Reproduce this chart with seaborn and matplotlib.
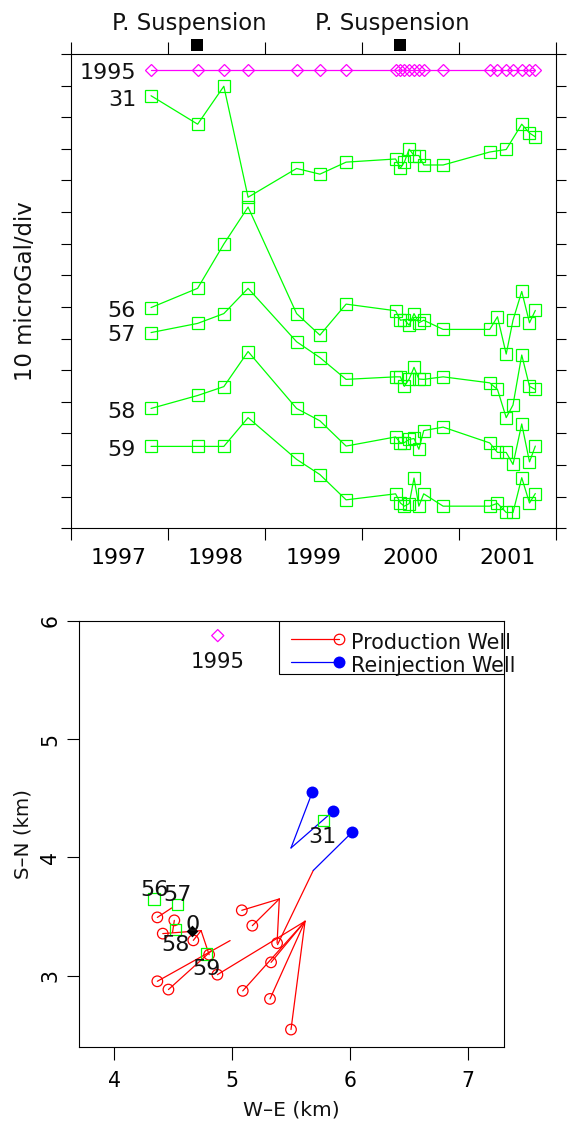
import matplotlib
matplotlib.use('Agg')
import matplotlib.pyplot as plt
from matplotlib.patches import Rectangle
import pandas as pd
import seaborn as sns

sns.set_style('ticks', {'axes.edgecolor': 'black', 'xtick.color': 'black', 'ytick.color': 'black',
                        'text.color': '#111111', 'axes.labelcolor': '#111111'})
plt.rcParams['font.family'] = ['DejaVu Sans']

LIME = '#00ff00'
MAGENTA = '#ff00ff'
RED = '#ff0000'
BLUE = '#0000ff'

# Gravity time series (decimal year, microGal)
times = [1997.83, 1998.31, 1998.58, 1998.83, 1999.33, 1999.57, 1999.84, 2000.35, 2000.40, 2000.44, 2000.49,
         2000.54, 2000.59, 2000.64, 2000.84, 2001.32, 2001.40, 2001.49, 2001.56, 2001.65, 2001.73, 2001.79]
g_1995 = [144.8] * 22
g_31 = [136.8, 127.8, 139.8, 104.7, 113.8, 112.0, 115.8, 116.8, 113.9, 115.8, 119.9,
        117.9, 117.9, 114.9, 114.9, 119.0, None, 119.8, None, 127.8, 125.0, 123.8]
g_56 = [69.8, 75.9, 89.9, 101.6, 67.9, 61.1, 70.9, 68.8, 65.8, 66.0, 64.2,
        67.9, 65.0, 65.8, 62.9, 62.9, 66.9, 55.1, 65.8, 74.9, 65.0, 68.9]
g_57 = [61.9, 64.8, 67.9, 75.9, 59.0, 54.0, 47.1, 47.9, 47.9, 44.9, 47.2,
        50.9, 47.2, 47.1, 47.9, 46.0, 43.9, 35.0, 39.0, 54.8, 44.9, 43.9]
g_58 = [37.9, 42.0, 44.8, 55.9, 37.9, 34.0, 26.0, 28.9, 27.0, 27.1, 28.1,
        28.4, 25.0, 30.9, 32.0, 27.0, 24.0, 24.0, 20.2, 33.0, 21.0, 26.0]
g_59 = [25.9, 25.9, 25.9, 35.0, 21.8, 17.0, 9.0, 10.9, 8.0, 7.0, 7.8,
        15.9, 7.0, 10.9, 7.0, 7.0, 7.9, 5.0, 5.0, 16.0, 8.0, 11.0]
station_labels = ['1995', '31', '56', '57', '58', '59']
label_y = [144.0, 135.5, 68.7, 61.1, 36.7, 24.9]
suspension_t = [1998.30, 2000.40]
suspension_text_t = [1998.22, 2000.32]
year_ticks = [1997, 1998, 1999, 2000, 2001, 2002]
year_labels = ['1997', '1998', '1999', '2000', '2001']

# Map: well bottom (x, y) then wellhead (x, y), in km
prod_bottom_x = [4.364, 4.508, 4.410, 4.669, 4.803, 4.364, 4.458, 4.873, 5.080, 5.169, 5.379, 5.328, 5.088, 5.319, 5.497]
prod_bottom_y = [3.492, 3.467, 3.355, 3.298, 3.177, 2.952, 2.882, 3.008, 3.552, 3.422, 3.274, 3.112, 2.871, 2.803, 2.544]
prod_head_x = [4.486, 4.493, 4.735, 4.735, 4.735, 4.981, 4.819, 5.616, 5.398, 5.398, 5.398, 5.616, 5.616, 5.616, 5.616]
prod_head_y = [3.572, 3.366, 3.380, 3.380, 3.380, 3.296, 3.207, 3.459, 3.648, 3.648, 3.648, 3.459, 3.459, 3.459, 3.459]
reinj_x = [5.678, 5.856, 6.017]
reinj_y = [4.551, 4.391, 4.214]
reinj_head_x = [5.497, 5.497, 5.686]
reinj_head_y = [4.079, 4.079, 3.889]
branch_x = [5.686, 5.383]
branch_y = [3.889, 3.262]
station_x = [4.336, 4.534, 4.520, 4.783, 5.771]
station_y = [3.648, 3.600, 3.389, 3.183, 4.312]
station_names = ['56', '57', '58', '59', '31']
station_text_x = [4.336, 4.534, 4.520, 4.783, 5.765]
station_text_y = [3.725, 3.678, 3.260, 3.055, 4.170]


def draw_series(ax, values, color, marker, size):
    df = pd.DataFrame({'t': times, 'g': values}).dropna()
    sns.lineplot(data=df, x='t', y='g', estimator=None, sort=False, ax=ax, color=color, linewidth=0.9,
                 marker=marker, markersize=size, markerfacecolor='none', markeredgecolor=color,
                 markeredgewidth=0.9)


def draw_well(ax, x0, y0, x1, y1, color):
    sns.lineplot(x=[x0, x1], y=[y0, y1], estimator=None, sort=False, ax=ax, color=color, linewidth=0.9)


fig = plt.figure(figsize=(5.68, 11.21), dpi=100)

# Top panel: time series
ax1 = fig.add_axes([70.5 / 568, 1 - 528.3 / 1121, 485.2 / 568, 474.3 / 1121])
draw_series(ax1, g_1995, MAGENTA, 'D', 6.2)
for values in [g_31, g_56, g_57, g_58, g_59]:
    draw_series(ax1, values, LIME, 's', 8.6)
sns.scatterplot(x=suspension_t, y=[152.9, 152.9], marker='s', s=80, color='black', linewidth=0,
                ax=ax1, clip_on=False, zorder=5)
for t in suspension_text_t:
    ax1.text(t, 159.5, 'P. Suspension', ha='center', va='center', fontsize=16.4, clip_on=False)
for name, y in zip(station_labels, label_y):
    ax1.text(1997.675, y, name, ha='right', va='center', fontsize=16)

ax1.set_xlim(1997, 2002)
ax1.set_ylim(0, 150)
ax1.set_xticks(year_ticks)
ax1.set_xticklabels([])
ax1.set_xticks([y + 0.5 for y in year_ticks[:-1]], minor=True)
ax1.set_xticklabels(year_labels, minor=True, fontsize=15.8)
ax1.set_yticks(range(0, 151, 10))
ax1.set_yticklabels([])
ax1.tick_params(axis='x', which='major', direction='out', length=8.6, width=0.8, top=True, bottom=True)
ax1.tick_params(axis='x', which='minor', length=0, pad=14.4)
ax1.tick_params(axis='y', direction='out', length=7.5, width=0.8, left=True, right=True)
ax1.set_xlabel('')
ax1.set_ylabel('10 microGal/div', fontsize=16.4, va='center')
ax1.yaxis.set_label_coords(-0.0925, 0.5)
for spine in ax1.spines.values():
    spine.set_visible(True)
    spine.set_linewidth(0.8)

# Bottom panel: well map
ax2 = fig.add_axes([79 / 568, 1 - 1047.3 / 1121, 424.7 / 568, 426.6 / 1121])
for i in range(len(prod_bottom_x)):
    draw_well(ax2, prod_bottom_x[i], prod_bottom_y[i], prod_head_x[i], prod_head_y[i], RED)
draw_well(ax2, branch_x[0], branch_y[0], branch_x[1], branch_y[1], RED)
for i in range(len(reinj_x)):
    draw_well(ax2, reinj_x[i], reinj_y[i], reinj_head_x[i], reinj_head_y[i], BLUE)
sns.scatterplot(x=prod_bottom_x, y=prod_bottom_y, marker='o', s=58, facecolor='none', edgecolor=RED,
                linewidth=0.9, ax=ax2, zorder=3)
sns.scatterplot(x=reinj_x, y=reinj_y, marker='o', s=74, color=BLUE, linewidth=0, ax=ax2, zorder=3)
sns.scatterplot(x=station_x, y=station_y, marker='s', s=64, facecolor='none', edgecolor=LIME,
                linewidth=0.9, ax=ax2, zorder=4)
sns.scatterplot(x=[4.876], y=[5.874], marker='D', s=38, facecolor='none', edgecolor=MAGENTA,
                linewidth=0.9, ax=ax2, zorder=4)
sns.scatterplot(x=[4.661], y=[3.374], marker='D', s=36, color='black', linewidth=0, ax=ax2, zorder=5)

for name, x, y in zip(station_names, station_text_x, station_text_y):
    ax2.text(x, y, name, ha='center', va='center', fontsize=16, zorder=6)
ax2.text(4.661, 3.43, '0', ha='center', va='center', fontsize=16, zorder=6)
ax2.text(4.876, 5.65, '1995', ha='center', va='center', fontsize=15.2, zorder=6)

# Legend box, the labels run past the right edge as in the source figure
ax2.add_patch(Rectangle((5.398, 5.547), 1.902, 0.453, facecolor='white', edgecolor='black', linewidth=0.8, zorder=6))
ax2.plot([5.497, 5.904], [5.845, 5.845], color=RED, linewidth=0.9, zorder=7)
ax2.plot([5.904], [5.845], 'o', ms=7.6, mfc='none', mec=RED, mew=0.9, zorder=7)
ax2.plot([5.497, 5.904], [5.648, 5.648], color=BLUE, linewidth=0.9, zorder=7)
ax2.plot([5.904], [5.648], 'o', ms=8.6, mfc=BLUE, mec=BLUE, mew=0, zorder=7)
ax2.text(6.006, 5.812, 'Production Well', ha='left', va='center', fontsize=14.9, clip_on=False, zorder=8)
ax2.text(6.006, 5.615, 'Reinjection Well', ha='left', va='center', fontsize=14.9, clip_on=False, zorder=8)

ax2.set_xlim(3.70, 7.30)
ax2.set_ylim(2.394, 6.0)
ax2.set_xticks([4, 5, 6, 7])
ax2.set_yticks([3, 4, 5, 6])
ax2.tick_params(axis='x', direction='out', length=9, width=0.8, pad=8, labelsize=14.8)
ax2.tick_params(axis='y', direction='out', length=8.4, width=0.8, pad=5, labelsize=14.8)
plt.setp(ax2.get_yticklabels(), rotation=90, va='center')
ax2.set_xlabel('W\u2013E (km)', fontsize=14.6, va='center')
ax2.set_ylabel('S\u2013N (km)', fontsize=14.3, va='center')
ax2.xaxis.set_label_coords(0.5, -0.147)
ax2.yaxis.set_label_coords(-0.132, 0.5)
for spine in ax2.spines.values():
    spine.set_visible(True)
    spine.set_linewidth(0.8)

fig.savefig('out.png', dpi=100, facecolor='white')
